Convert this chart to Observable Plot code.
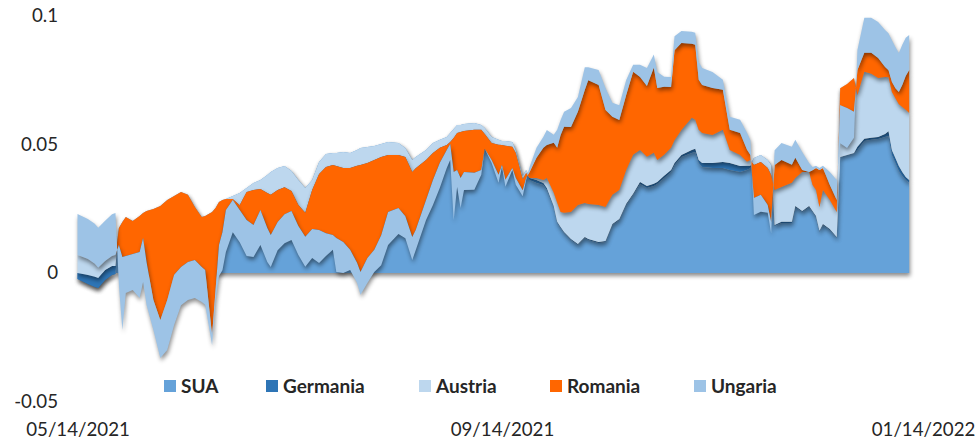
<!DOCTYPE html>
<html>
<head>
<meta charset="utf-8">
<script src="https://cdn.jsdelivr.net/npm/d3@7"></script>
<script src="https://cdn.jsdelivr.net/npm/@observablehq/plot@0.6"></script>
<style>
  html, body { margin: 0; padding: 0; background: #fff; }
  #wrap { position: relative; width: 976px; height: 442px; font-family: Lato, "Open Sans", sans-serif; }
  #wrap svg { position: absolute; left: 0; top: 0; }
  .sw { position: absolute; width: 12px; height: 12px; top: 380px; }
  .lt { position: absolute; top: 376px; font: bold 19px/19px Lato, sans-serif; color: #262626; white-space: nowrap; }
</style>
</head>
<body>
<div id="wrap"></div>
<script>
const dates = [
"2021-05-14","2021-05-17","2021-05-19","2021-05-20","2021-05-22","2021-05-24","2021-05-25",
"2021-05-26","2021-05-27","2021-05-28","2021-05-30","2021-06-01","2021-06-02","2021-06-03",
"2021-06-05","2021-06-07","2021-06-09","2021-06-11","2021-06-13","2021-06-15","2021-06-17",
"2021-06-19","2021-06-20","2021-06-22","2021-06-23","2021-06-24","2021-06-25","2021-06-26",
"2021-06-28","2021-06-30","2021-07-02","2021-07-04","2021-07-06","2021-07-08","2021-07-09",
"2021-07-11","2021-07-13","2021-07-15","2021-07-17","2021-07-19","2021-07-21","2021-07-23",
"2021-07-25","2021-07-27","2021-07-28","2021-07-30","2021-08-01","2021-08-03","2021-08-04",
"2021-08-06","2021-08-08","2021-08-10","2021-08-12","2021-08-15","2021-08-17","2021-08-19",
"2021-08-20","2021-08-23","2021-08-25","2021-08-27","2021-08-29","2021-08-30","2021-08-31",
"2021-09-01","2021-09-02","2021-09-03","2021-09-06","2021-09-08","2021-09-09","2021-09-11",
"2021-09-13","2021-09-14","2021-09-15","2021-09-17","2021-09-18","2021-09-20","2021-09-21",
"2021-09-22","2021-09-24","2021-09-26","2021-09-27","2021-09-29","2021-09-30","2021-10-01",
"2021-10-02","2021-10-04","2021-10-06","2021-10-08","2021-10-09","2021-10-12","2021-10-14",
"2021-10-16","2021-10-18","2021-10-20","2021-10-22","2021-10-24","2021-10-26","2021-10-28",
"2021-10-29","2021-10-31","2021-11-02","2021-11-03","2021-11-05","2021-11-08","2021-11-09",
"2021-11-10","2021-11-11","2021-11-14","2021-11-17","2021-11-19","2021-11-22","2021-11-24",
"2021-11-25","2021-11-26","2021-11-28","2021-11-30","2021-12-01","2021-12-02","2021-12-04",
"2021-12-07","2021-12-08","2021-12-10","2021-12-12","2021-12-13","2021-12-14","2021-12-15",
"2021-12-16","2021-12-18","2021-12-20","2021-12-21","2021-12-23","2021-12-25","2021-12-26",
"2021-12-28","2021-12-30","2022-01-01","2022-01-03","2022-01-04","2022-01-05","2022-01-06",
"2022-01-07","2022-01-08","2022-01-09","2022-01-10"
];

const sua = [
-0.0023,-0.0043,-0.0054,-0.0058,-0.0027,-0.0008,-0.0004,
0.0175,0.0198,0.0218,0.0202,0.0222,0.0233,0.0241,
0.0249,0.0261,0.0284,0.0300,0.0315,0.0304,0.0257,
0.0218,0.0222,0.0237,0.0253,0.0276,0.0284,0.0288,
0.0300,0.0311,0.0331,0.0350,0.0362,0.0381,0.0393,
0.0409,0.0416,0.0397,0.0362,0.0331,0.0362,0.0432,
0.0463,0.0467,0.0467,0.0471,0.0467,0.0479,0.0486,
0.0490,0.0494,0.0502,0.0510,0.0506,0.0486,0.0440,
0.0451,0.0479,0.0506,0.0518,0.0529,0.0545,0.0560,
0.0576,0.0576,0.0580,0.0584,0.0576,0.0564,0.0529,
0.0518,0.0514,0.0514,0.0510,0.0479,0.0377,0.0401,
0.0362,0.0350,0.0342,0.0323,0.0257,0.0195,0.0175,
0.0156,0.0128,0.0109,0.0136,0.0128,0.0117,0.0121,
0.0187,0.0206,0.0265,0.0304,0.0346,0.0331,0.0339,
0.0346,0.0370,0.0393,0.0420,0.0451,0.0467,0.0471,
0.0428,0.0412,0.0409,0.0409,0.0401,0.0393,0.0401,
0.0409,0.0447,0.0459,0.0440,0.0420,0.0183,0.0195,
0.0195,0.0257,0.0237,0.0257,0.0237,0.0218,0.0160,
0.0187,0.0167,0.0136,0.0451,0.0459,0.0467,0.0479,
0.0514,0.0518,0.0521,0.0529,0.0533,0.0459,0.0428,
0.0397,0.0377,0.0362,0.0350
];

const germania = [
0.0023,0.0035,0.0039,0.0039,0.0039,0.0035,0.0031,
0,0,0,0,0,0,0,
0,0,0,0,0,0,0,
0,0,0,0,0,0,0,
0,0,0,0,0,0,0,
0,0,0,0,0,0,0,
0,0,0,0,0,0,0,
0,0,0,0,0,0,0,
0,0,0,0,0,0,0,
0,0,0,0,0,0,0,
0,0,0,0,0,0,0,
0.0008,0.0012,0.0008,0.0008,0.0004,0.0004,0.0004,
0.0004,0.0004,0.0004,0.0004,0.0004,0.0004,0.0004,
0.0004,0.0004,0.0004,0.0004,0.0008,0.0008,0.0008,
0.0008,0.0008,0.0008,0.0008,0.0008,0.0012,0.0012,
0.0012,0.0016,0.0019,0.0023,0.0027,0.0023,0.0016,
0.0008,0,0,0,0,0.0004,0.0004,
0.0004,0.0004,0.0004,0.0004,0.0004,0.0004,0.0004,
0.0004,0.0004,0.0004,0,0,0,0.0012,
0.0008,0.0008,0.0008,0.0012,0.0019,0.0019,0.0019,
0.0019,0.0016,0.0012,0.0012
];

const austria = [
0.0070,0.0062,0.0051,0.0039,0.0035,0.0039,0.0043,
0,0,0,0,0,0,0,
0,0,0,0,0,0,0,
0,0,0,0,0,0,0,
-0.0012,-0.0047,-0.0016,-0.0027,-0.0035,-0.0070,-0.0089,
-0.0086,-0.0082,-0.0078,-0.0097,-0.0097,-0.0039,-0.0047,
-0.0051,-0.0047,-0.0051,-0.0062,-0.0058,-0.0062,-0.0066,
-0.0062,-0.0054,-0.0051,-0.0051,-0.0047,-0.0035,-0.0047,
-0.0043,-0.0039,-0.0039,-0.0031,-0.0031,-0.0035,-0.0035,
-0.0031,-0.0027,-0.0027,-0.0027,-0.0019,-0.0023,-0.0023,
-0.0019,-0.0016,-0.0019,-0.0019,-0.0012,-0.0012,-0.0012,
0,0.0008,0.0012,0.0039,0.0051,0.0074,0.0058,
0.0074,0.0105,0.0152,0.0132,0.0136,0.0144,0.0132,
0.0113,0.0113,0.0132,0.0152,0.0125,0.0113,0.0121,
0.0086,0.0082,0.0086,0.0089,0.0097,0.0125,0.0113,
0.0117,0.0117,0.0109,0.0125,0.0051,0.0043,0.0016,
0.0023,-0.0027,-0.0027,-0.0031,-0.0039,0.0136,0.0136,
0.0152,0.0109,0.0152,0.0132,0.0101,0.0101,0.0093,
0.0132,0.0113,0.0097,0.0268,0.0276,0.0292,0.0202,
0.0261,0.0249,0.0230,0.0222,0.0210,0.0226,0.0233,
0.0241,0.0253,0.0261,0.0261
];

const romania = [
0,0,0,0,0,0,0,
-0.0066,-0.0136,-0.0152,-0.0128,-0.0140,-0.0097,-0.0198,
-0.0354,-0.0444,-0.0389,-0.0307,-0.0292,-0.0261,-0.0206,
-0.0195,-0.0210,-0.0479,-0.0319,-0.0167,-0.0125,-0.0043,
-0.0004,-0.0019,-0.0109,-0.0136,-0.0082,-0.0136,-0.0156,
-0.0125,-0.0105,-0.0078,-0.0082,-0.0093,-0.0152,-0.0218,
-0.0257,-0.0272,-0.0280,-0.0288,-0.0319,-0.0377,-0.0416,
-0.0370,-0.0350,-0.0304,-0.0222,-0.0206,-0.0230,-0.0253,
-0.0241,-0.0156,-0.0105,-0.0058,-0.0019,-0.0008,-0.0132,
-0.0144,-0.0179,-0.0160,-0.0167,-0.0156,-0.0058,-0.0066,
-0.0117,-0.0078,-0.0132,-0.0082,-0.0097,-0.0043,-0.0019,
0.0023,0.0078,0.0125,0.0128,0.0195,0.0214,0.0300,
0.0335,0.0331,0.0362,0.0440,0.0482,0.0467,0.0377,
0.0304,0.0272,0.0292,0.0323,0.0284,0.0276,0.0331,
0.0280,0.0265,0.0237,0.0350,0.0339,0.0288,0.0292,
0.0195,0.0187,0.0183,0.0156,0.0078,0.0086,0.0047,
0.0019,-0.0128,-0.0128,-0.0144,-0.0183,0.0097,0.0105,
0.0070,0.0078,0.0008,0,0.0058,0.0086,0.0144,
0.0086,0.0058,0.0047,-0.0066,-0.0093,-0.0132,0.0097,
0.0074,0.0082,0.0078,0.0039,0.0027,0.0039,0.0039,
0.0047,0.0086,0.0132,0.0167
];

const ungaria = [
0.0160,0.0156,0.0156,0.0156,0.0156,0.0163,0.0163,
-0.0156,-0.0284,-0.0144,-0.0140,-0.0179,-0.0171,-0.0167,
-0.0117,-0.0148,-0.0195,-0.0195,-0.0148,-0.0148,-0.0148,
-0.0136,-0.0136,-0.0039,-0.0039,-0.0121,-0.0148,-0.0163,
-0.0125,-0.0125,-0.0140,-0.0125,-0.0136,-0.0132,-0.0125,
-0.0109,-0.0113,-0.0113,-0.0113,-0.0117,-0.0113,-0.0128,
-0.0089,-0.0058,-0.0132,-0.0121,-0.0078,-0.0078,-0.0089,
-0.0097,-0.0086,-0.0117,-0.0128,-0.0101,-0.0086,-0.0089,
-0.0078,-0.0078,-0.0097,-0.0097,-0.0070,-0.0062,-0.0187,
-0.0066,-0.0117,-0.0070,-0.0066,-0.0019,0,-0.0012,
-0.0031,-0.0008,-0.0027,-0.0008,-0.0027,-0.0023,-0.0008,
0.0019,0.0039,0.0043,0.0058,0.0031,0.0070,0.0058,
0.0058,0.0074,0.0058,0.0089,0.0051,0.0058,0.0086,
0.0054,0.0058,0.0058,0.0027,0.0047,0.0070,0.0051,
0.0062,0.0039,0.0039,0.0054,0.0047,0.0047,0.0047,
0.0070,0.0066,0.0062,0.0039,0.0051,0.0051,0.0066,
0.0058,-0.0066,-0.0066,-0.0031,-0.0043,0.0058,0.0066,
0.0070,0.0070,0.0070,0.0035,0.0012,0.0008,0.0008,
0.0008,0.0051,0.0078,-0.0148,-0.0156,-0.0101,0.0078,
0.0136,0.0136,0.0140,0.0144,0.0144,0.0163,0.0160,
0.0152,0.0156,0.0148,0.0136
];

const seriesNames = ["SUA", "Germania", "Austria", "Romania", "Ungaria"];
const seriesColors = ["#65A2D9", "#2E75B6", "#BDD7EE", "#FF6600", "#9DC3E6"];
const yTicks = [-0.05, 0, 0.05, 0.1];
const xTickDates = ["2021-05-14", "2021-09-14", "2022-01-14"];

// Excel-style stacked areas: each series spans from the running total before it to the running total after it
const seriesValues = [sua, germania, austria, romania, ungaria];
const parsed = dates.map(d => new Date(d));
const layers = seriesValues.map(() => []);
parsed.forEach((date, j) => {
  let acc = 0;
  seriesValues.forEach((vals, i) => {
    const lo = acc;
    acc += vals[j];
    layers[i].push({date, lo, hi: acc});
  });
});

const chart = Plot.plot({
  width: 976,
  height: 442,
  marginLeft: 77.5,
  marginRight: 53,
  marginTop: 16,
  marginBottom: 40.5,
  style: {fontFamily: "Lato, sans-serif", fontSize: "18.7px", color: "#262626", background: "transparent"},
  x: {type: "utc", domain: [new Date("2021-05-14"), new Date("2022-01-14")], label: null},
  y: {domain: [-0.05, 0.1], label: null},
  marks: [
    ...layers.map((rows, i) => Plot.areaY(rows, {x: "date", y1: "lo", y2: "hi", fill: seriesColors[i]})),
    Plot.axisY({ticks: yTicks, tickSize: 0, tickPadding: 20, tickFormat: d => d === 0 ? "0" : String(d), label: null}),
    Plot.axisX({ticks: xTickDates.map(d => new Date(d)), tickSize: 0, tickPadding: 21, tickFormat: d3.utcFormat("%m/%d/%Y"), label: null})
  ]
});

chart.querySelectorAll('g[aria-label="area"]').forEach(g => {
  g.style.filter = "drop-shadow(1px 3px 2px rgba(0,0,0,0.45))";
});

const wrap = document.getElementById("wrap");
wrap.appendChild(chart);

const legendX = [164, 266, 419, 550, 694];
seriesNames.forEach((name, i) => {
  const sw = document.createElement("div");
  sw.className = "sw";
  sw.style.left = legendX[i] + "px";
  sw.style.background = seriesColors[i];
  wrap.appendChild(sw);
  const t = document.createElement("div");
  t.className = "lt";
  t.style.left = (legendX[i] + 17) + "px";
  t.textContent = name;
  wrap.appendChild(t);
});
</script>
</body>
</html>
